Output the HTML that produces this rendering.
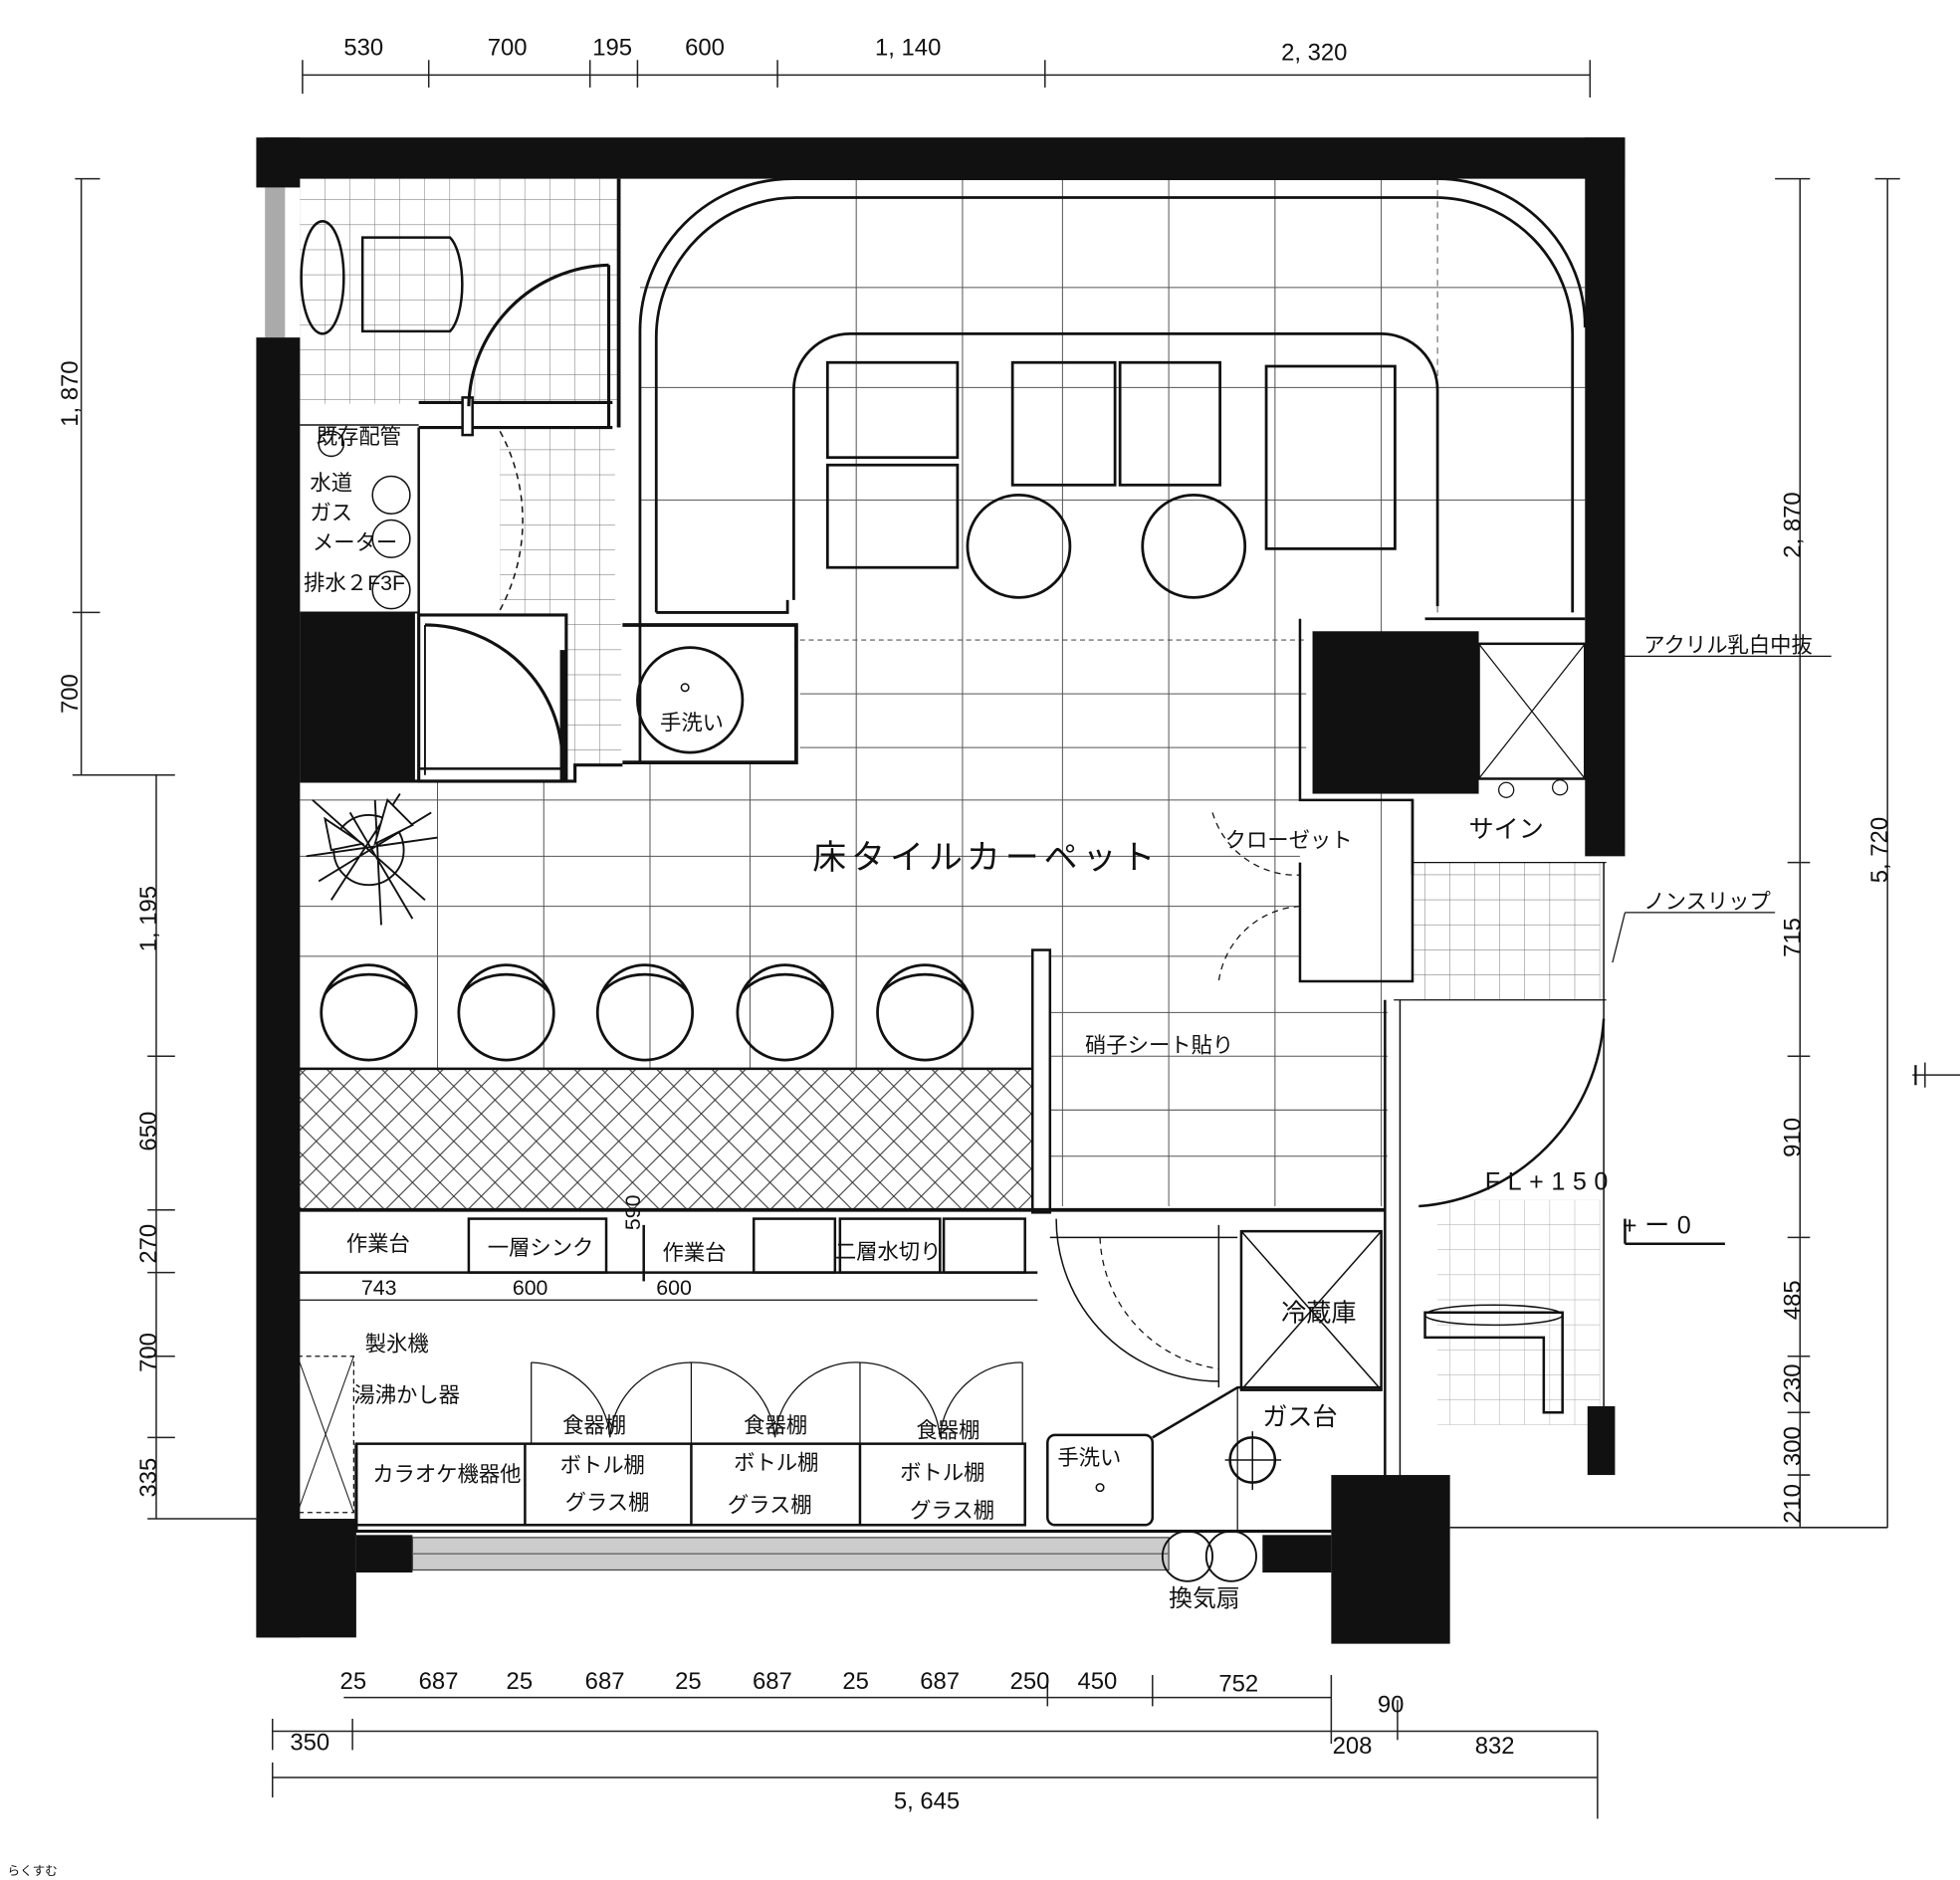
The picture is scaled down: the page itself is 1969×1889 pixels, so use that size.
<!DOCTYPE html>
<html><head><meta charset="utf-8"><style>
html,body{margin:0;padding:0;background:#fff;}
svg{display:block;}
text{font-family:"Liberation Sans","Noto Sans CJK JP",sans-serif;fill:#111;}
</style></head><body>
<svg width="1969" height="1889" viewBox="0 0 1568 1504" preserveAspectRatio="none" xmlns="http://www.w3.org/2000/svg">
<defs>
<pattern id="hatch" width="22" height="22" patternUnits="userSpaceOnUse">
<path d="M0 0L22 22M22 0L0 22" stroke="#333" stroke-width="0.8"/>
</pattern>
<pattern id="tile" width="20" height="20" patternUnits="userSpaceOnUse">
<path d="M20 0V20M0 20H20" stroke="#666" stroke-width="0.7" fill="none"/>
</pattern>
</defs>
<rect width="1568" height="1504" fill="#fff"/>

<!-- top dims -->
<g stroke="#222" stroke-width="1.2" fill="none">
<line x1="242" y1="60" x2="1272" y2="60"/>
<line x1="242" y1="48" x2="242" y2="75"/><line x1="343" y1="48" x2="343" y2="70"/><line x1="472" y1="48" x2="472" y2="70"/><line x1="510" y1="48" x2="510" y2="70"/><line x1="622" y1="48" x2="622" y2="70"/><line x1="836" y1="48" x2="836" y2="70"/><line x1="1272" y1="48" x2="1272" y2="78"/>
<!-- left dims -->
<line x1="65" y1="143" x2="65" y2="620"/>
<line x1="60" y1="143" x2="80" y2="143"/><line x1="58" y1="490" x2="80" y2="490"/><line x1="58" y1="620" x2="140" y2="620"/>
<line x1="125" y1="620" x2="125" y2="1215"/>
<line x1="118" y1="845" x2="140" y2="845"/><line x1="118" y1="968" x2="140" y2="968"/><line x1="118" y1="1018" x2="140" y2="1018"/><line x1="118" y1="1085" x2="140" y2="1085"/><line x1="118" y1="1150" x2="140" y2="1150"/><line x1="118" y1="1215" x2="205" y2="1215"/>
<!-- right dims -->
<line x1="1440" y1="143" x2="1440" y2="1222"/>
<line x1="1420" y1="143" x2="1448" y2="143"/><line x1="1430" y1="690" x2="1448" y2="690"/><line x1="1430" y1="845" x2="1448" y2="845"/><line x1="1430" y1="990" x2="1448" y2="990"/><line x1="1430" y1="1085" x2="1448" y2="1085"/><line x1="1430" y1="1130" x2="1448" y2="1130"/><line x1="1430" y1="1180" x2="1448" y2="1180"/><line x1="1160" y1="1222" x2="1510" y2="1222"/>
<line x1="1510" y1="143" x2="1510" y2="1222"/><line x1="1500" y1="143" x2="1520" y2="143"/>
<line x1="1540" y1="850" x2="1540" y2="870"/><line x1="1530" y1="860" x2="1568" y2="860"/>
<!-- bottom dims -->
<line x1="275" y1="1358" x2="1065" y2="1358"/>
<line x1="218" y1="1385" x2="1278" y2="1385"/>
<line x1="218" y1="1375" x2="218" y2="1400"/><line x1="282" y1="1375" x2="282" y2="1400"/><line x1="1065" y1="1340" x2="1065" y2="1395"/><line x1="1118" y1="1360" x2="1118" y2="1392"/><line x1="1278" y1="1385" x2="1278" y2="1455"/>
<line x1="218" y1="1422" x2="1278" y2="1422"/><line x1="218" y1="1410" x2="218" y2="1438"/>
<line x1="922" y1="1340" x2="922" y2="1365"/><line x1="838" y1="1340" x2="838" y2="1365"/>
</g>
<g font-size="19">
<text x="275" y="44">530</text><text x="390" y="44">700</text><text x="474" y="44">195</text><text x="548" y="44">600</text><text x="700" y="44">1, 140</text><text x="1025" y="48">2, 320</text>
<text transform="translate(62,315) rotate(-90)" text-anchor="middle">1, 870</text>
<text transform="translate(62,555) rotate(-90)" text-anchor="middle">700</text>
<text transform="translate(125,735) rotate(-90)" text-anchor="middle">1, 195</text>
<text transform="translate(125,905) rotate(-90)" text-anchor="middle">650</text>
<text transform="translate(125,995) rotate(-90)" text-anchor="middle">270</text>
<text transform="translate(125,1082) rotate(-90)" text-anchor="middle">700</text>
<text transform="translate(125,1182) rotate(-90)" text-anchor="middle">335</text>
<text transform="translate(1440,420) rotate(-90)" text-anchor="middle">2, 870</text>
<text transform="translate(1440,750) rotate(-90)" text-anchor="middle">715</text>
<text transform="translate(1440,910) rotate(-90)" text-anchor="middle">910</text>
<text transform="translate(1440,1040) rotate(-90)" text-anchor="middle">485</text>
<text transform="translate(1440,1107) rotate(-90)" text-anchor="middle">230</text>
<text transform="translate(1440,1157) rotate(-90)" text-anchor="middle">300</text>
<text transform="translate(1440,1203) rotate(-90)" text-anchor="middle">210</text>
<text transform="translate(1510,680) rotate(-90)" text-anchor="middle">5, 720</text>
<text x="272" y="1351">25</text><text x="335" y="1351">687</text><text x="405" y="1351">25</text><text x="468" y="1351">687</text><text x="540" y="1351">25</text><text x="602" y="1351">687</text><text x="674" y="1351">25</text><text x="736" y="1351">687</text><text x="808" y="1351">250</text><text x="862" y="1351">450</text><text x="975" y="1353">752</text>
<text x="1102" y="1370">90</text>
<text x="232" y="1400">350</text><text x="1066" y="1403">208</text><text x="1180" y="1403">832</text>
<text x="715" y="1447">5, 645</text>
</g>

<!-- floor tile grid -->
<g stroke="#555" stroke-width="0.8" fill="none">
<line x1="435" y1="625" x2="435" y2="855"/><line x1="520" y1="610" x2="520" y2="855"/><line x1="600" y1="610" x2="600" y2="855"/><line x1="685" y1="143" x2="685" y2="855"/><line x1="770" y1="143" x2="770" y2="855"/><line x1="850" y1="143" x2="850" y2="965"/><line x1="935" y1="143" x2="935" y2="965"/><line x1="1020" y1="143" x2="1020" y2="965"/><line x1="1105" y1="143" x2="1105" y2="965"/><line x1="350" y1="625" x2="350" y2="855"/>
<line x1="640" y1="512" x2="1045" y2="512" stroke-dasharray="4,3"/>
<line x1="640" y1="555" x2="1045" y2="555"/><line x1="640" y1="598" x2="1045" y2="598"/>
<line x1="240" y1="640" x2="1040" y2="640"/><line x1="240" y1="685" x2="1040" y2="685"/><line x1="240" y1="725" x2="1040" y2="725"/><line x1="240" y1="765" x2="1040" y2="765"/><line x1="840" y1="810" x2="1110" y2="810"/><line x1="840" y1="845" x2="1110" y2="845"/><line x1="840" y1="888" x2="1110" y2="888"/><line x1="840" y1="925" x2="1110" y2="925"/>
<line x1="512" y1="230" x2="1268" y2="230"/><line x1="512" y1="310" x2="1268" y2="310"/><line x1="512" y1="400" x2="1268" y2="400"/><line x1="1150" y1="143" x2="1150" y2="490" stroke-dasharray="5,4"/>
</g>
<!-- small tile areas -->
<rect x="240" y="143" width="255" height="180" fill="url(#tile)"/>
<rect x="400" y="342" width="92" height="150" fill="url(#tile)"/>
<rect x="452" y="492" width="45" height="120" fill="url(#tile)"/>
<rect x="1130" y="690" width="150" height="110" fill="url(#tile)"/>
<rect x="1130" y="800" width="0" height="0"/>
<rect x="1150" y="960" width="130" height="180" fill="url(#tile)" opacity="0.6"/>

<!-- booth -->
<g stroke="#111" stroke-width="2.2" fill="none">
<path d="M512 500V265A122 122 0 0 1 634 143H1150A118 118 0 0 1 1268 262"/>
<path d="M525 490V270A112 112 0 0 1 637 158H1148A110 110 0 0 1 1258 268V490"/>
<path d="M1140 495H1268"/>
<path d="M635 480V312A45 45 0 0 1 680 267H1105A45 45 0 0 1 1150 312V485"/>
<path d="M525 490H630V480"/>
<path d="M498 500H637V610H498" stroke-width="3"/>
<path d="M512 500V610"/>
<rect x="662" y="290" width="104" height="76"/><rect x="662" y="372" width="104" height="82"/>
<rect x="810" y="290" width="82" height="98"/><rect x="896" y="290" width="80" height="98"/>
<rect x="1013" y="293" width="103" height="146"/>
<circle cx="815" cy="437" r="41"/><circle cx="955" cy="437" r="41"/>
<circle cx="552" cy="560" r="42"/>
<circle cx="548" cy="550" r="3" stroke-width="1.2"/>
</g>

<!-- left service rooms -->
<g stroke="#111" stroke-width="2" fill="none">
<line x1="495" y1="143" x2="495" y2="342" stroke-width="3"/>
<path d="M335 322H490M335 342H490" stroke-width="2.5"/>
<rect x="370" y="318" width="8" height="30" fill="#fff"/>
<path d="M375 325A115 115 0 0 1 487 212" stroke-width="2.5"/>
<line x1="487" y1="212" x2="487" y2="342" stroke-width="2.5"/>
<line x1="335" y1="342" x2="335" y2="492" stroke-width="2"/>
<path d="M240 340H335" stroke-width="1.2"/>
<path d="M240 490H335" stroke-width="1.5"/>
<path d="M400 345A150 150 0 0 1 400 488" stroke-dasharray="5,4" stroke-width="1.2"/>
<rect x="335" y="492" width="118" height="133" stroke-width="2.5"/>
<line x1="340" y1="500" x2="340" y2="620" stroke-width="1.5"/>
<path d="M340 500A110 110 0 0 1 450 610" stroke-width="2.5"/>
<line x1="450" y1="520" x2="450" y2="625" stroke-width="4"/>
<path d="M335 615H452" stroke-width="2"/>
<path d="M240 625H460V612H498" stroke-width="2.5"/>
<ellipse cx="258" cy="222" rx="17" ry="45"/>
<path d="M290 190H360A15 40 0 0 1 360 265H290Z"/>
<circle cx="265" cy="355" r="10" stroke-width="1.2"/>
<circle cx="313" cy="396" r="15" stroke-width="1.2"/>
<circle cx="313" cy="431" r="15" stroke-width="1.2"/>
<circle cx="313" cy="472" r="15" stroke-width="1.2"/>
</g>
<rect x="212" y="150" width="16" height="120" fill="#aaa"/>
<g font-size="17">
<text x="253" y="355">既存配管</text>
<text x="248" y="392">水道</text><text x="248" y="416">ガス</text><text x="250" y="440">メーター</text><text x="243" y="472">排水２F3F</text>
<text x="528" y="584">手洗い</text>
</g>

<!-- fan plant -->
<g stroke="#111" stroke-width="1.5" fill="none">
<circle cx="295" cy="680" r="28"/>
<path d="M250 640L340 720M265 720L320 635M245 685L350 670M300 640L305 740M255 705L345 650M280 650L330 735"/>
<path d="M260 655L290 675L265 680Z" fill="#fff"/><path d="M310 640L300 675L330 660Z" fill="#fff"/>
</g>

<!-- stools -->
<g stroke="#111" stroke-width="2.2" fill="none">
<circle cx="295" cy="810" r="38"/><circle cx="405" cy="810" r="38"/><circle cx="516" cy="810" r="38"/><circle cx="628" cy="810" r="38"/><circle cx="740" cy="810" r="38"/>
<path d="M260 795A40 30 0 0 1 330 795M370 795A40 30 0 0 1 440 795M481 795A40 30 0 0 1 551 795M593 795A40 30 0 0 1 663 795M705 795A40 30 0 0 1 775 795"/>
</g>

<!-- counter -->
<rect x="238" y="855" width="592" height="113" fill="url(#hatch)" stroke="#111" stroke-width="2"/>
<g stroke="#111" stroke-width="2" fill="none">
<rect x="826" y="760" width="14" height="210" fill="#fff"/>
<line x1="238" y1="968" x2="840" y2="968" stroke-width="3"/>
<line x1="238" y1="1018" x2="830" y2="1018"/>
<rect x="375" y="975" width="110" height="43"/><rect x="603" y="975" width="65" height="43"/><rect x="672" y="975" width="80" height="43"/><rect x="755" y="975" width="65" height="43"/>
<line x1="515" y1="980" x2="515" y2="1025"/>
<line x1="238" y1="1040" x2="830" y2="1040" stroke-width="1"/>
<line x1="238" y1="1020" x2="238" y2="1225"/>
<rect x="238" y="1085" width="45" height="125" stroke-width="1" stroke-dasharray="4,3"/>
<line x1="238" y1="1085" x2="283" y2="1210" stroke-width="0.8"/><line x1="283" y1="1085" x2="238" y2="1210" stroke-width="0.8"/>
<rect x="285" y="1155" width="535" height="65"/>
<line x1="420" y1="1155" x2="420" y2="1220"/><line x1="553" y1="1155" x2="553" y2="1220"/><line x1="688" y1="1155" x2="688" y2="1220"/>
<path d="M285 1155V1225H1065" stroke-width="2.5"/>
<rect x="838" y="1148" width="84" height="72" rx="6"/>
<circle cx="880" cy="1190" r="3" stroke-width="1.2"/>
<path d="M425 1155V1090M425 1090A65 65 0 0 1 488 1150M553 1155V1090M553 1090A65 65 0 0 0 488 1150M553 1090A65 65 0 0 1 620 1150M688 1155V1090M688 1090A65 65 0 0 0 620 1150M688 1090A65 65 0 0 1 752 1150M818 1155V1090M818 1090A65 65 0 0 0 752 1150" stroke-width="1"/>
<path d="M922 1150L990 1110H1105" />
<line x1="990" y1="1110" x2="990" y2="1225" stroke-width="1"/>
<rect x="993" y="985" width="112" height="127"/>
<path d="M993 985L1105 1112M1105 985L993 1112" stroke-width="1.2"/>
<circle cx="1002" cy="1168" r="18"/><path d="M980 1168H1025M1002 1145V1192" stroke-width="1.2"/>
<path d="M840 968H1108" stroke-width="3"/>
<path d="M840 990H990" stroke-width="1.2"/>
<path d="M845 975A130 130 0 0 0 975 1105" stroke-width="1.2"/>
<path d="M880 990A110 110 0 0 0 975 1095" stroke-dasharray="5,4" stroke-width="1"/>
<line x1="975" y1="980" x2="975" y2="1110" stroke-width="1.2"/>
<line x1="1108" y1="800" x2="1108" y2="1225" stroke-width="2"/>
<line x1="1120" y1="800" x2="1120" y2="1225" stroke-width="1.2"/>
<path d="M1115 800H1285" stroke-width="1"/>
<path d="M1283 815A160 160 0 0 1 1135 965" stroke-width="2"/>
<line x1="1283" y1="690" x2="1283" y2="1125" stroke-width="1.2"/>
<path d="M1140 1050H1250V1130H1235V1070H1140Z" stroke-width="2"/>
<ellipse cx="1195" cy="1052" rx="55" ry="8" stroke-width="1.2"/>
<path d="M1300 995H1380" />
<path d="M1300 975V995" />
</g>
<!-- closet -->
<g stroke="#111" stroke-width="2" fill="none">
<path d="M1040 495V640H1130V785H1040V690"/>
<path d="M1130 640V700" />
<path d="M970 650A70 70 0 0 0 1040 700M1040 725A70 70 0 0 0 975 785" stroke-dasharray="5,4" stroke-width="1"/>
<line x1="1285" y1="690" x2="1130" y2="690" stroke-width="1"/>
<rect x="1183" y="515" width="85" height="108"/>
<path d="M1183 515L1268 623M1268 515L1183 623" stroke-width="1"/>
<circle cx="1205" cy="632" r="6" stroke-width="1"/><circle cx="1248" cy="630" r="6" stroke-width="1"/>
<line x1="1300" y1="525" x2="1465" y2="525" stroke-width="1"/>
<line x1="1300" y1="730" x2="1420" y2="730" stroke-width="1"/>
<line x1="1300" y1="730" x2="1290" y2="770" stroke-width="1"/>
</g>

<!-- walls -->
<g fill="#111">
<rect x="212" y="110" width="1088" height="33"/>
<rect x="205" y="110" width="35" height="40"/>
<rect x="205" y="270" width="35" height="1040"/>
<rect x="240" y="490" width="92" height="135"/>
<rect x="1268" y="110" width="32" height="575"/>
<rect x="1050" y="505" width="133" height="130"/>
<rect x="205" y="1215" width="80" height="95"/>
<rect x="285" y="1228" width="45" height="30"/>
<rect x="1010" y="1228" width="55" height="30"/>
<rect x="1065" y="1180" width="95" height="135"/>
<rect x="1270" y="1125" width="22" height="55"/>
</g>
<rect x="330" y="1230" width="605" height="26" fill="#ccc" stroke="#444" stroke-width="1"/>
<line x1="330" y1="1243" x2="935" y2="1243" stroke="#666"/>
<g stroke="#111" stroke-width="1.5" fill="none"><circle cx="950" cy="1245" r="20"/><circle cx="985" cy="1245" r="20"/></g>

<!-- labels -->
<text x="650" y="695" font-size="27" letter-spacing="4">床タイルカーペット</text>
<g font-size="17">
<text x="980" y="678">クローゼット</text>
<text x="868" y="842">硝子シート貼り</text>
<text x="1315" y="522">アクリル乳白中抜</text>
<text x="1315" y="727">ノンスリップ</text>
<text x="277" y="1001">作業台</text>
<text x="390" y="1004">一層シンク</text>
<text x="530" y="1008">作業台</text>
<text x="668" y="1007">二層水切り</text>
<text x="289" y="1036">743</text><text x="410" y="1036">600</text><text x="525" y="1036">600</text>
<text transform="translate(512,970) rotate(-90)" text-anchor="middle">590</text>
<text x="292" y="1081">製氷機</text>
<text x="283" y="1122">湯沸かし器</text>
<text x="298" y="1185">カラオケ機器他</text>
<text x="450" y="1146">食器棚</text><text x="595" y="1146">食器棚</text><text x="733" y="1150">食器棚</text>
<text x="448" y="1178">ボトル棚</text><text x="587" y="1176">ボトル棚</text><text x="720" y="1184">ボトル棚</text>
<text x="452" y="1208">グラス棚</text><text x="582" y="1210">グラス棚</text><text x="728" y="1214">グラス棚</text>
<text x="846" y="1172">手洗い</text>
<text x="935" y="1285" font-size="19">換気扇</text>
</g>
<g font-size="20">
<text x="1025" y="1057">冷蔵庫</text>
<text x="1010" y="1140">ガス台</text>
<text x="1175" y="670">サイン</text>
<text x="1188" y="952" letter-spacing="6">FL+150</text>
<text x="1298" y="987" letter-spacing="6">+ー0</text>
<text transform="translate(1540,860) rotate(-90)" text-anchor="middle">ー</text>
</g>
<text x="6" y="1500" font-size="10" fill="#888">らくすむ</text>
</svg>
</body></html>
